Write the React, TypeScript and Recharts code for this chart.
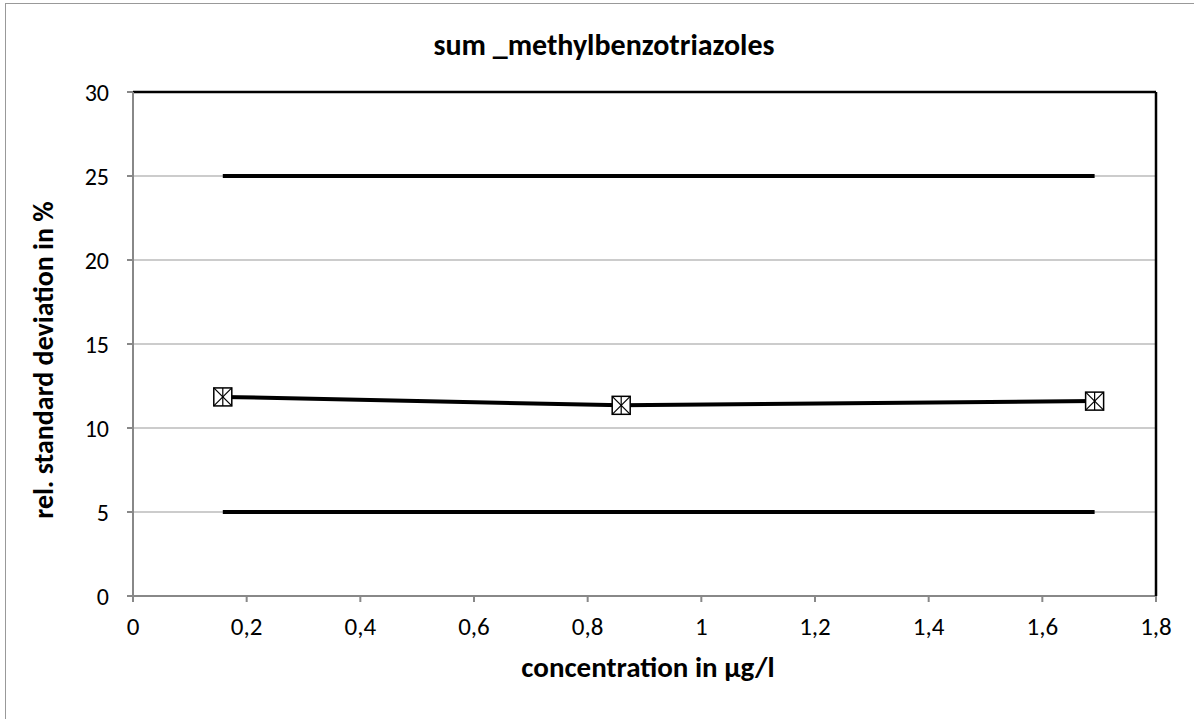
import * as React from "react";
import {
  CartesianGrid,
  ComposedChart,
  Line,
  XAxis,
  YAxis,
} from "recharts";

const concentrations = [0.158, 0.859, 1.692];
const rsd = [11.85, 11.35, 11.6];
const upperLimit = [25, 25];
const lowerLimit = [5, 5];
const limitRange = [0.158, 1.692];
const xTicks = [0, 0.2, 0.4, 0.6, 0.8, 1, 1.2, 1.4, 1.6, 1.8];
const yTicks = [0, 5, 10, 15, 20, 25, 30];

const rsdData = concentrations.map((c, i) => ({ x: c, y: rsd[i] }));
const upperData = limitRange.map((c, i) => ({ x: c, y: upperLimit[i] }));
const lowerData = limitRange.map((c, i) => ({ x: c, y: lowerLimit[i] }));

const FONT = "Carlito, Calibri, Lato, sans-serif";

function BoxStar(props: any) {
  const { cx, cy } = props;
  if (cx == null || cy == null) return null;
  const h = 9;
  return (
    <g>
      <rect x={cx - h} y={cy - h} width={h * 2} height={h * 2} fill="#fff" stroke="#000" strokeWidth={1.5} />
      <line x1={cx - h} y1={cy - h} x2={cx + h} y2={cy + h} stroke="#000" strokeWidth={1.2} />
      <line x1={cx - h} y1={cy + h} x2={cx + h} y2={cy - h} stroke="#000" strokeWidth={1.2} />
      <line x1={cx} y1={cy - h} x2={cx} y2={cy + h} stroke="#000" strokeWidth={1.2} />
    </g>
  );
}

const fmt = (v: number) => String(v).replace(".", ",");

const labelStyle: React.CSSProperties = {
  position: "absolute",
  fontWeight: 700,
  color: "#000",
  whiteSpace: "nowrap",
  textAlign: "center",
};

export default function App() {
  return (
    <div style={{ position: "absolute", left: 0, top: 0, width: 1194, height: 719, background: "#fff", fontFamily: FONT, overflow: "hidden" }}>
      <div style={{ position: "absolute", left: 5, top: 3, width: 1200, height: 730, border: "1px solid #999" }} />
      <div style={{ position: "absolute", left: 0, top: 0 }}>
        <ComposedChart width={1194} height={719} margin={{ top: 91, right: 37, bottom: 63, left: 0 }}>
          <CartesianGrid horizontal vertical={false} stroke="#999" strokeWidth={1} />
          <XAxis
            type="number"
            dataKey="x"
            domain={[0, 1.8]}
            ticks={xTicks}
            tickFormatter={fmt}
            interval={0}
            stroke="#888"
            strokeWidth={2}
            tickSize={6}
            height={60}
            tick={{ fontSize: 25, fill: "#000", fontFamily: FONT }}
            tickMargin={15}
            allowDataOverflow
          />
          <XAxis xAxisId="top" orientation="top" type="number" domain={[0, 1.8]} tick={false} stroke="#000" strokeWidth={2.5} tickLine={false} height={1} />
          <YAxis
            type="number"
            domain={[0, 30]}
            ticks={yTicks}
            interval={0}
            stroke="#888"
            strokeWidth={2}
            tickSize={6}
            tick={{ fontSize: 24, fill: "#000", fontFamily: FONT }}
            tickMargin={18}
            width={133}
          />
          <YAxis yAxisId="right" orientation="right" type="number" domain={[0, 30]} tick={false} stroke="#000" strokeWidth={2.5} tickLine={false} width={1} />
          <Line data={upperData} dataKey="y" type="linear" stroke="#000" strokeWidth={4} dot={false} isAnimationActive={false} />
          <Line data={lowerData} dataKey="y" type="linear" stroke="#000" strokeWidth={4} dot={false} isAnimationActive={false} />
          <Line data={rsdData} dataKey="y" type="linear" stroke="#000" strokeWidth={4} dot={<BoxStar />} isAnimationActive={false} />
        </ComposedChart>
      </div>
      <div style={{ ...labelStyle, left: 304, top: 27, width: 600, fontSize: 30, lineHeight: "36px" }}>
        sum _methylbenzotriazoles
      </div>
      <div style={{ ...labelStyle, left: 348, top: 649, width: 600, fontSize: 29, lineHeight: "36px" }}>
        concentration in µg/l
      </div>
      <div style={{ ...labelStyle, left: 44 - 250, top: 360 - 18, width: 500, fontSize: 28, lineHeight: "36px", transform: "rotate(-90deg)" }}>
        rel. standard deviation in %
      </div>
    </div>
  );
}
